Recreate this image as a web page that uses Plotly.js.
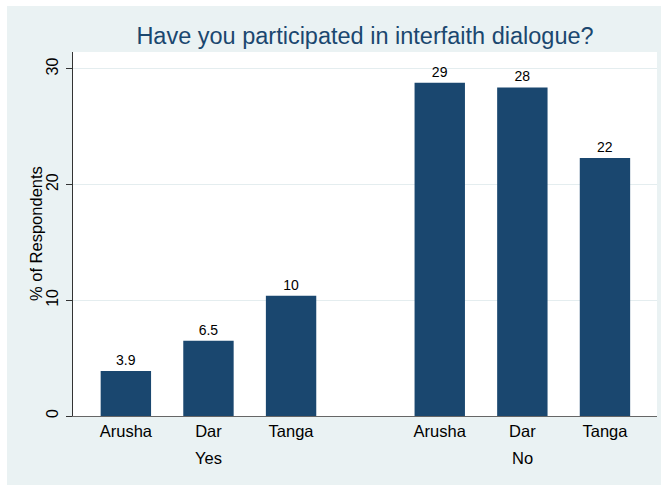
<!DOCTYPE html>
<html>
<head>
<meta charset="utf-8">
<script src="https://cdn.plot.ly/plotly-3.0.1.min.js"></script>
<style>
  html, body { margin: 0; padding: 0; background: #ffffff; }
  #chart { position: absolute; left: 7px; top: 6px; width: 654px; height: 479px; }
</style>
</head>
<body>
<div id="chart"></div>
<script>
// ---- data ----
var groups = ["Yes", "No"];
var cities = ["Arusha", "Dar", "Tanga"];
var yesValues = [3.9, 6.5, 10.4];
var noValues = [28.8, 28.4, 22.3];
var yTicks = [0, 10, 20, 30];

// ---- layout helpers ----
var groupGap = 1.8;
var xs = [], ys = [], tickText = [], labels = [], groupCenters = [];
var series = [yesValues, noValues];
var pos = 0;
for (var g = 0; g < groups.length; g++) {
  var start = pos;
  for (var c = 0; c < cities.length; c++) {
    xs.push(pos);
    ys.push(series[g][c]);
    tickText.push(cities[c]);
    labels.push(String(Number(series[g][c].toPrecision(2))));
    pos += 1;
  }
  groupCenters.push((start + pos - 1) / 2);
  pos += groupGap - 1;
}

var font = "Liberation Sans, Arial, Helvetica, sans-serif";
var navy = "#1a476f";

var trace = {
  type: "bar",
  x: xs,
  y: ys,
  width: 0.61,
  marker: { color: navy, line: { width: 0 } },
  text: labels,
  textposition: "outside",
  textfont: { family: font, size: 14, color: "#000000" },
  cliponaxis: false,
  hoverinfo: "skip"
};

var annotations = groupCenters.map(function (gx, i) {
  return {
    text: groups[i], x: gx, xref: "x", y: 0, yref: "paper",
    yanchor: "top", yshift: -31, showarrow: false,
    font: { family: font, size: 16.5, color: "#000000" }
  };
});
annotations.push({
  text: "% of Respondents", x: 0, xref: "paper", y: 0.5, yref: "paper",
  xanchor: "center", yanchor: "middle", xshift: -37, textangle: -90,
  showarrow: false, font: { family: font, size: 16.5, color: "#000000" }
});

var layout = {
  width: 654, height: 479,
  margin: { l: 66, r: 4, t: 46, b: 69 },
  paper_bgcolor: "#EAF2F3",
  plot_bgcolor: "#ffffff",
  showlegend: false,
  title: {
    text: "Have you participated in interfaith dialogue?",
    font: { family: font, size: 23.5, color: navy },
    x: 0.5, xref: "paper", y: 0.937, yref: "container", yanchor: "middle"
  },
  xaxis: {
    range: [-0.64, 6.43],
    tickvals: xs, ticktext: tickText,
    ticks: "", showgrid: false, zeroline: false,
    showline: true, linecolor: "#666666", linewidth: 1,
    tickfont: { family: font, size: 16.5, color: "#000000" },
    fixedrange: true
  },
  yaxis: {
    range: [0, 31.46],
    tickvals: yTicks,
    ticks: "outside", ticklen: 6, tickcolor: "#333333", tickwidth: 1,
    tickangle: -90,
    showline: true, linecolor: "#333333", linewidth: 1,
    showgrid: true, gridcolor: "#E4EDEF", gridwidth: 1,
    zeroline: false,
    tickfont: { family: font, size: 16, color: "#000000" },
    ticklabelstandoff: 2,
    fixedrange: true
  },
  annotations: annotations
};

Plotly.newPlot("chart", [trace], layout, { displayModeBar: false, staticPlot: true });
</script>
</body>
</html>
